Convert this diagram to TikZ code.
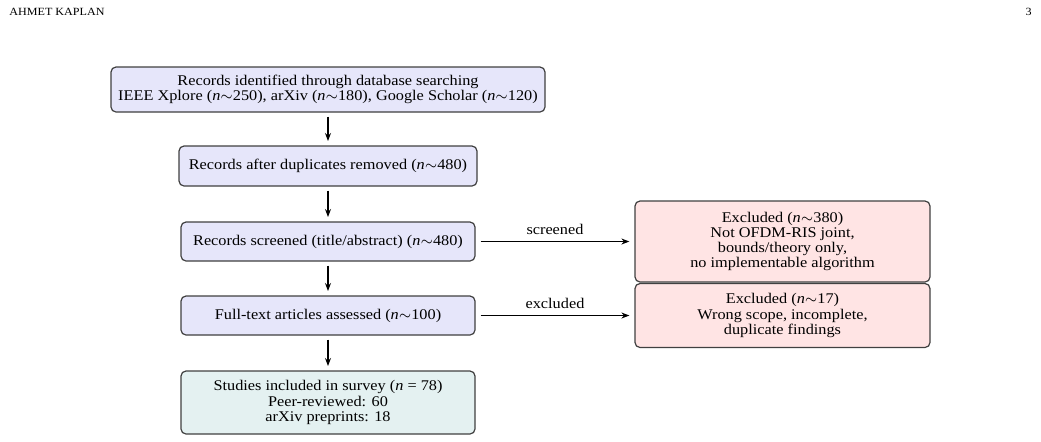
\documentclass[tikz,border=0pt]{standalone}
\usepackage{fontspec}
\setmainfont{Liberation Serif}[FakeStretch=1.1]
\usetikzlibrary{arrows.meta}
\definecolor{boxblue}{RGB}{230,230,250}
\definecolor{boxred}{RGB}{255,228,228}
\definecolor{boxgreen}{RGB}{228,241,241}
\tikzset{
  flowbox/.style={draw=black!75, line width=0.6pt, rounded corners=2.5pt, align=center,
    inner sep=0pt, font=\fontsize{7.4}{7.6}\selectfont},
  bluebox/.style={flowbox, fill=boxblue},
  redbox/.style={flowbox, fill=boxred},
  greenbox/.style={flowbox, fill=boxgreen},
  flowarrow/.style={line width=0.6pt, -{Stealth[length=4pt,width=3pt]}, shorten <=2pt, shorten >=2.2pt},
  sidearrow/.style={line width=0.6pt, -{Stealth[length=4pt,width=3pt]}, shorten <=2.5pt, shorten >=2.5pt},
  arrowlabel/.style={font=\fontsize{7.4}{7.6}\selectfont, above},
  header/.style={font=\fontsize{5.5}{6}\selectfont, inner sep=0pt}
}
\newcommand{\nn}{\textit{n}}
\begin{document}
\begin{tikzpicture}[x=0.5pt,y=-0.5pt]
\useasboundingbox (0,0) rectangle (1041,441);
\node[header, anchor=west] (hdr) at (9,12) {AHMET KAPLAN};
\node[header, anchor=east] (pg) at (1032,12) {3};

\node[bluebox, minimum width=217pt, minimum height=22.5pt] (b1) at (328,89.5)
  {Records identified through database searching\\
   IEEE Xplore (\nn$\sim$250), arXiv (\nn$\sim$180), Google Scholar (\nn$\sim$120)};
\node[bluebox, minimum width=149pt, minimum height=20pt] (b2) at (328,166)
  {Records after duplicates removed (\nn$\sim$480)};
\node[bluebox, minimum width=147pt, minimum height=19.5pt] (b3) at (328,241.5)
  {Records screened (title/abstract) (\nn$\sim$480)};
\node[bluebox, minimum width=147pt, minimum height=19.5pt] (b4) at (328,315.5)
  {Full-text articles assessed (\nn$\sim$100)};
\node[greenbox, minimum width=147pt, minimum height=31.5pt] (b5) at (328,402.5)
  {Studies included in survey (\nn{} = 78)\\ Peer-reviewed: 60\\ arXiv preprints: 18};
\node[redbox, minimum width=147.5pt, minimum height=40.5pt] (ea) at (782.5,241.5)
  {Excluded (\nn$\sim$380)\\ Not OFDM-RIS joint,\\ bounds/theory only,\\ no implementable algorithm};
\node[redbox, minimum width=147.5pt, minimum height=32pt] (eb) at (782.5,315.5)
  {Excluded (\nn$\sim$17)\\ Wrong scope, incomplete,\\ duplicate findings};

\draw[flowarrow] (b1) -- (b2);
\draw[flowarrow] (b2) -- (b3);
\draw[flowarrow] (b3) -- (b4);
\draw[flowarrow] (b4) -- (b5);
\draw[sidearrow] (b3) -- node[arrowlabel] {screened} (ea);
\draw[sidearrow] (b4) -- node[arrowlabel] {excluded} (eb);
\end{tikzpicture}
\end{document}
